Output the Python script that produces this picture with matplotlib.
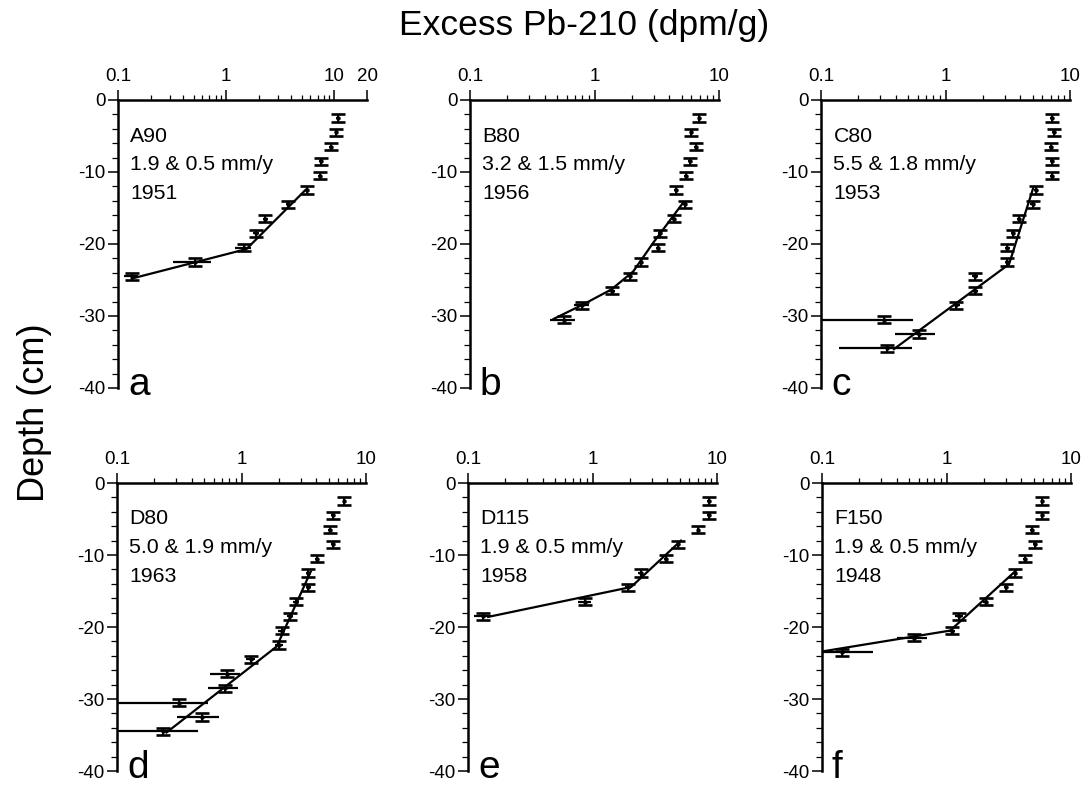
import numpy as np
import matplotlib
matplotlib.use("Agg")
import matplotlib.pyplot as plt
from matplotlib import ticker

plt.rcParams["font.family"] = ["Liberation Sans", "DejaVu Sans"]
plt.rcParams["axes.unicode_minus"] = False

# ---- data (excess Pb-210 in dpm/g vs depth in cm) ----
a_depth = [-2.5, -4.5, -6.5, -8.5, -10.5, -12.5, -14.5, -16.5, -18.5, -20.5, -22.5, -24.5]
a_pb = [10.7, 10.4, 9.2, 7.5, 7.3, 5.6, 3.7, 2.3, 1.9, 1.45, 0.52, 0.134]
a_err = [0.3, 0.3, 0.3, 0.25, 0.25, 0.2, 0.15, 0.12, 0.12, 0.25, 0.2, 0.02]
a_fit_pb = [5.4, 1.54, 0.134]
a_fit_depth = [-12.5, -20.7, -24.8]

b_depth = [-2.5, -4.5, -6.5, -8.5, -10.5, -12.5, -14.5, -16.5, -18.5, -20.5,
           -22.5, -24.5, -26.5, -28.5, -30.5]
b_pb = [6.95, 6.0, 6.5, 5.8, 5.4, 4.5, 5.3, 4.35, 3.36, 3.26, 2.36, 1.93, 1.37, 0.80, 0.57]
b_err = [0.2, 0.2, 0.2, 0.2, 0.15, 0.15, 0.15, 0.12, 0.12, 0.12, 0.1, 0.08, 0.08, 0.11, 0.13]
b_fit_pb = [5.16, 2.97, 2.05, 1.37, 0.81, 0.47]
b_fit_depth = [-14.25, -19.8, -23.8, -26.3, -28.4, -30.4]

c_depth = [-2.5, -4.5, -6.5, -8.5, -10.5, -12.5, -14.5, -16.5, -18.5, -20.5,
           -22.5, -24.5, -26.5, -28.5, -30.5, -32.5, -34.5]
c_pb = [7.15, 7.4, 7.0, 7.2, 7.2, 5.3, 5.0, 3.9, 3.49, 3.14, 3.14, 1.72, 1.72, 1.22,
        0.32, 0.61, 0.34]
c_err = [0.25, 0.25, 0.25, 0.25, 0.25, 0.2, 0.2, 0.15, 0.15, 0.15, 0.15, 0.1, 0.1, 0.08,
         0.23, 0.22, 0.2]
c_fit_pb = [5.09, 3.24, 0.385]
c_fit_depth = [-12.1, -22.8, -34.6]

d_depth = [-2.5, -4.5, -6.5, -8.5, -10.5, -12.5, -14.5, -16.5, -18.5, -20.5,
           -22.5, -24.5, -26.5, -28.5, -30.5, -32.5, -34.5]
d_pb = [6.7, 5.47, 5.15, 5.47, 4.06, 3.44, 3.44, 2.74, 2.45, 2.10, 2.0, 1.19, 0.77, 0.735,
        0.313, 0.483, 0.234]
d_err = [0.2, 0.2, 0.2, 0.2, 0.15, 0.15, 0.15, 0.15, 0.15, 0.15, 0.15, 0.1,
         0.21, 0.2, 0.23, 0.18, 0.21]
d_fit_pb = [3.6, 1.92, 0.25]
d_fit_depth = [-12.3, -22.7, -34.65]

e_depth = [-2.5, -4.5, -6.5, -8.5, -10.5, -12.5, -14.5, -16.5, -18.5]
e_pb = [8.67, 8.55, 7.1, 4.9, 3.9, 2.43, 1.92, 0.87, 0.132]
e_err = [0.3, 0.3, 0.25, 0.15, 0.15, 0.1, 0.1, 0.1, 0.02]
e_fit_pb = [5.14, 2.04, 0.145]
e_fit_depth = [-8.0, -14.45, -18.6]

f_depth = [-2.5, -4.5, -6.5, -8.5, -10.5, -12.5, -14.5, -16.5, -18.5, -20.5, -21.5, -23.5]
f_pb = [5.9, 5.9, 4.82, 5.12, 4.26, 3.58, 3.0, 2.06, 1.26, 1.10, 0.55, 0.145]
f_err = [0.2, 0.2, 0.15, 0.15, 0.12, 0.1, 0.1, 0.08, 0.1, 0.08, 0.15, 0.11]
f_fit_pb = [3.65, 1.07, 0.1]
f_fit_depth = [-12.1, -20.5, -23.4]

depth_half = 0.5  # half of the 1 cm sampling interval

cores = ["A90", "B80", "C80", "D80", "D115", "F150"]
rates = ["1.9 & 0.5 mm/y", "3.2 & 1.5 mm/y", "5.5 & 1.8 mm/y",
         "5.0 & 1.9 mm/y", "1.9 & 0.5 mm/y", "1.9 & 0.5 mm/y"]
years = ["1951", "1956", "1953", "1963", "1958", "1948"]
letters = ["a", "b", "c", "d", "e", "f"]
x_max = [20, 10, 10, 10, 10, 10]

panels = [
    (a_pb, a_depth, a_err, a_fit_pb, a_fit_depth),
    (b_pb, b_depth, b_err, b_fit_pb, b_fit_depth),
    (c_pb, c_depth, c_err, c_fit_pb, c_fit_depth),
    (d_pb, d_depth, d_err, d_fit_pb, d_fit_depth),
    (e_pb, e_depth, e_err, e_fit_pb, e_fit_depth),
    (f_pb, f_depth, f_err, f_fit_pb, f_fit_depth),
]

# ---- layout (pixel positions of each panel on a 1089x788 canvas) ----
W, H = 1089, 788
lefts = [118, 470, 821, 117, 468, 822]
tops = [100, 100, 100, 483, 483, 483]
pw, ph = 249, 288

fig = plt.figure(figsize=(W / 100, H / 100), dpi=100)
fig.patch.set_facecolor("white")

for i, (pb, depth, err, fit_pb, fit_depth) in enumerate(panels):
    ax = fig.add_axes([lefts[i] / W, 1 - (tops[i] + ph) / H, pw / W, ph / H])
    ax.set_xscale("log")
    ax.set_xlim(0.1, x_max[i])
    ax.set_ylim(-40, 0)

    ax.plot(fit_pb, fit_depth, color="black", lw=1.6, zorder=3)
    ax.errorbar(pb, depth, xerr=err, fmt="none", ecolor="black", elinewidth=1.6,
                capsize=0, zorder=4)
    ax.errorbar(pb, depth, yerr=depth_half, fmt="o", ms=2.2, color="black",
                ecolor="black", elinewidth=1.4, capsize=5, capthick=1.9, zorder=5)

    for side in ("right", "bottom"):
        ax.spines[side].set_visible(False)
    for side in ("left", "top"):
        ax.spines[side].set_linewidth(1.8)

    ax.xaxis.tick_top()
    if x_max[i] == 20:
        ax.set_xticks([0.1, 1, 10, 20], ["0.1", "1", "10", "20"])
    else:
        ax.set_xticks([0.1, 1, 10], ["0.1", "1", "10"])
    ax.xaxis.set_minor_locator(ticker.LogLocator(base=10, subs=np.arange(2, 10)))
    ax.xaxis.set_minor_formatter(ticker.NullFormatter())
    ax.set_yticks([0, -10, -20, -30, -40], ["0", "-10", "-20", "-30", "-40"])
    ax.yaxis.set_minor_locator(ticker.MultipleLocator(2))

    ax.tick_params(axis="x", which="major", direction="out", length=7, width=1.1,
                   pad=4, labelsize=13.5)
    ax.tick_params(axis="x", which="minor", direction="out", length=3.5, width=0.9)
    ax.tick_params(axis="y", which="major", direction="out", length=7, width=1.1,
                   pad=2, labelsize=13.5)
    ax.tick_params(axis="y", which="minor", direction="out", length=4, width=0.9)

    tx = 0.05
    for line_depth, txt in zip((-5, -9, -13), (cores[i], rates[i], years[i])):
        ax.text(tx, line_depth, txt, transform=ax.get_yaxis_transform(),
                va="center", ha="left", fontsize=15.3)
    ax.text(0.04, -41, letters[i], transform=ax.get_yaxis_transform(), va="baseline",
            ha="left", fontsize=28, clip_on=False)

fig.text(584 / W, 1 - 25 / H, "Excess Pb-210 (dpm/g)", ha="center", va="center",
         fontsize=25.5)
fig.text(35 / W, 1 - 413 / H, "Depth (cm)", ha="center", va="center",
         rotation=90, fontsize=26)

fig.savefig("out.png", dpi=100, facecolor="white")
